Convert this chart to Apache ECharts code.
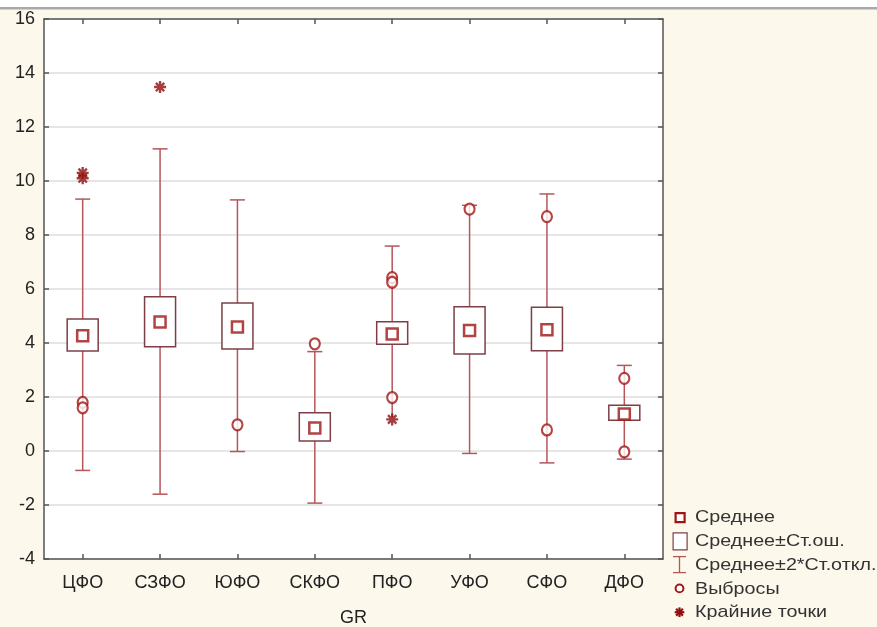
<!DOCTYPE html>
<html>
<head>
<meta charset="utf-8">
<script src="https://cdn.jsdelivr.net/npm/echarts@6/dist/echarts.min.js"></script>
<style>
html,body{margin:0;padding:0;background:#fdf8ec;}
#chart{width:877px;height:627px;}
</style>
</head>
<body>
<div id="chart"></div>
<script>
// ---- data ----
const categories = ['ЦФО','СЗФО','ЮФО','СКФО','ПФО','УФО','СФО','ДФО'];
const means  = [4.27, 4.78, 4.59, 0.85, 4.33, 4.46, 4.49, 1.37];
const seHigh = [4.89, 5.71, 5.48, 1.42, 4.79, 5.34, 5.32, 1.69];
const seLow  = [3.70, 3.86, 3.78, 0.37, 3.95, 3.59, 3.71, 1.14];
const sdHigh = [9.33, 11.19, 9.30, 3.68, 7.59, 9.10, 9.52, 3.17];
const sdLow  = [-0.72, -1.60, -0.02, -1.93, 1.25, -0.09, -0.44, -0.30];
const outliers = [[0,1.80],[0,1.60],[2,0.97],[3,3.97],[4,6.42],[4,6.25],[4,1.98],[5,8.96],[6,8.68],[6,0.78],[7,2.69],[7,-0.03]];
const extremes = [[0,10.30],[0,10.10],[1,13.48],[4,1.17]];
const yTicks = {min:-4, max:16, interval:2};
const legendLabels = ['Среднее','Среднее±Ст.ош.','Среднее±2*Ст.откл.','Выбросы','Крайние точки'];
const xName = 'GR';

// ---- styles ----
const FONT = '"Liberation Sans", Arial, sans-serif';
const meanColor = '#9e1414';
const boxColor = '#7d3f45';
const whiskColor = '#b5565b';
const ptColor = '#a31616';
const extColor = '#8e0f0f';
const axisColor = '#555555';
const asteriskPath = 'path://M-1,-5L1,-5L1,5L-1,5Z M-5,-1L5,-1L5,1L-5,1Z M2.79,4.21L-4.21,-2.79L-2.79,-4.21L4.21,2.79Z M-2.79,4.21L-4.21,2.79L2.79,-4.21L4.21,-2.79Z';

const whiskData = categories.map((c,i)=>{
  const hideLowCap = extremes.some(e=>e[0]===i && Math.abs(e[1]-sdLow[i])<0.3) ? 1 : 0;
  return [i, sdLow[i], sdHigh[i], hideLowCap];
});
const boxData = categories.map((c,i)=>[i, seLow[i], seHigh[i]]);
const meanData = categories.map((c,i)=>[i, means[i]]);

const chart = echarts.init(document.getElementById('chart'), null, {renderer:'canvas'});

const axisLine = {show:true, onZero:false, lineStyle:{color:axisColor, width:1.5}};
const legendY0 = 517, legendGap = 23.8;
const lgText = (i)=>({type:'text', left:695, top:legendY0 + i*legendGap - 8, scaleX:1.16,
  style:{text:legendLabels[i], font:'17px '+FONT, fill:'#333'}});
const ay = legendY0 + 4*legendGap, ax = 679.5, ar = 4.8, ad = 3.4;
const astSt = {stroke:extColor, lineWidth:2.2};

const option = {
  backgroundColor:'#fdf8ec',
  animation:false,
  grid:{left:44, top:19, right:214, bottom:68, show:true, backgroundColor:'#ffffff', borderWidth:0,
        containLabel:false, outerBoundsMode:'none'},
  xAxis:[{
    type:'category', data:categories, position:'bottom', boundaryGap:true,
    axisLine:axisLine,
    axisTick:{show:true, inside:true, alignWithLabel:true, length:5, lineStyle:{color:axisColor, width:1.5}},
    axisLabel:{color:'#222', fontSize:18, fontFamily:FONT, margin:15},
    name:xName, nameLocation:'middle', nameGap:50,
    nameTextStyle:{color:'#222', fontSize:18, fontFamily:FONT},
    splitLine:{show:false}
  },{
    type:'category', data:categories, position:'top', boundaryGap:true,
    axisLine:axisLine,
    axisTick:{show:true, inside:true, alignWithLabel:true, length:5, lineStyle:{color:axisColor, width:1.5}},
    axisLabel:{show:false}, splitLine:{show:false}
  }],
  yAxis:[{
    type:'value', min:yTicks.min, max:yTicks.max, interval:yTicks.interval, position:'left',
    axisLine:axisLine,
    axisTick:{show:true, inside:true, length:5, lineStyle:{color:axisColor, width:1.5}},
    axisLabel:{color:'#222', fontSize:18, fontFamily:FONT, margin:9},
    splitLine:{show:true, lineStyle:{color:'#dedede', width:1.5}}
  },{
    type:'value', min:yTicks.min, max:yTicks.max, interval:yTicks.interval, position:'right',
    axisLine:axisLine,
    axisTick:{show:true, inside:true, length:5, lineStyle:{color:axisColor, width:1.5}},
    axisLabel:{show:false}, splitLine:{show:false}
  }],
  series:[
    {
      name:legendLabels[2], type:'custom', data:whiskData, encode:{x:0, y:[1,2]}, z:2,
      renderItem:(params, api)=>{
        const x = api.value(0);
        const pHi = api.coord([x, api.value(2)]);
        const pLo = api.coord([x, api.value(1)]);
        const hideLow = api.value(3);
        const cw = 7.5;
        const st = {stroke:whiskColor, lineWidth:1.5};
        const children = [
          {type:'line', shape:{x1:pHi[0], y1:pHi[1], x2:pLo[0], y2:pLo[1]}, style:st},
          {type:'line', shape:{x1:pHi[0]-cw, y1:pHi[1], x2:pHi[0]+cw, y2:pHi[1]}, style:st}
        ];
        if(!hideLow) children.push({type:'line', shape:{x1:pLo[0]-cw, y1:pLo[1], x2:pLo[0]+cw, y2:pLo[1]}, style:st});
        return {type:'group', children};
      }
    },
    {
      name:legendLabels[1], type:'custom', data:boxData, encode:{x:0, y:[1,2]}, z:3,
      renderItem:(params, api)=>{
        const x = api.value(0);
        const pHi = api.coord([x, api.value(2)]);
        const pLo = api.coord([x, api.value(1)]);
        const w = 31;
        return {type:'rect', shape:{x:pHi[0]-w/2, y:pHi[1], width:w, height:pLo[1]-pHi[1]},
          style:{fill:'#ffffff', stroke:boxColor, lineWidth:1.5}};
      }
    },
    {
      name:legendLabels[0], type:'scatter', data:meanData, symbol:'rect', symbolSize:11, z:5,
      itemStyle:{color:'#ffffff', borderColor:meanColor, borderWidth:2.5}
    },
    {
      name:legendLabels[3], type:'scatter', data:outliers, symbol:'circle', symbolSize:[10,11], z:5,
      itemStyle:{color:'#ffffff', borderColor:ptColor, borderWidth:2.2}
    },
    {
      name:legendLabels[4], type:'scatter', data:extremes, symbol:asteriskPath, symbolSize:12, z:6,
      itemStyle:{color:extColor}
    }
  ],
  graphic:[
    {type:'rect', left:0, top:0, shape:{width:877, height:7}, style:{fill:'#ffffff'}, z:-1},
    {type:'rect', left:0, top:7, shape:{width:877, height:2.5}, style:{fill:'#a9a9a9'}, z:-1},
    // legend icons
    {type:'rect', left:674.5, top:legendY0-5, shape:{width:9, height:9}, style:{fill:'#fff', stroke:meanColor, lineWidth:2.2}},
    {type:'rect', left:672.5, top:legendY0+legendGap-8.5, shape:{width:14, height:17}, style:{fill:'#fff', stroke:boxColor, lineWidth:1.2}},
    {type:'line', shape:{x1:679.5,y1:legendY0+2*legendGap-8,x2:679.5,y2:legendY0+2*legendGap+8}, style:{stroke:whiskColor, lineWidth:1.3}},
    {type:'line', shape:{x1:673,y1:legendY0+2*legendGap-8,x2:686,y2:legendY0+2*legendGap-8}, style:{stroke:whiskColor, lineWidth:1.3}},
    {type:'line', shape:{x1:673,y1:legendY0+2*legendGap+8,x2:686,y2:legendY0+2*legendGap+8}, style:{stroke:whiskColor, lineWidth:1.3}},
    {type:'circle', shape:{cx:679.5, cy:legendY0+3*legendGap, r:3.9}, style:{fill:'#fff', stroke:ptColor, lineWidth:2}},
    {type:'line', shape:{x1:ax, y1:ay-ar, x2:ax, y2:ay+ar}, style:astSt},
    {type:'line', shape:{x1:ax-ar, y1:ay, x2:ax+ar, y2:ay}, style:astSt},
    {type:'line', shape:{x1:ax-ad, y1:ay-ad, x2:ax+ad, y2:ay+ad}, style:astSt},
    {type:'line', shape:{x1:ax-ad, y1:ay+ad, x2:ax+ad, y2:ay-ad}, style:astSt},
    lgText(0), lgText(1), lgText(2), lgText(3), lgText(4)
  ]
};
chart.setOption(option);
</script>
</body>
</html>
